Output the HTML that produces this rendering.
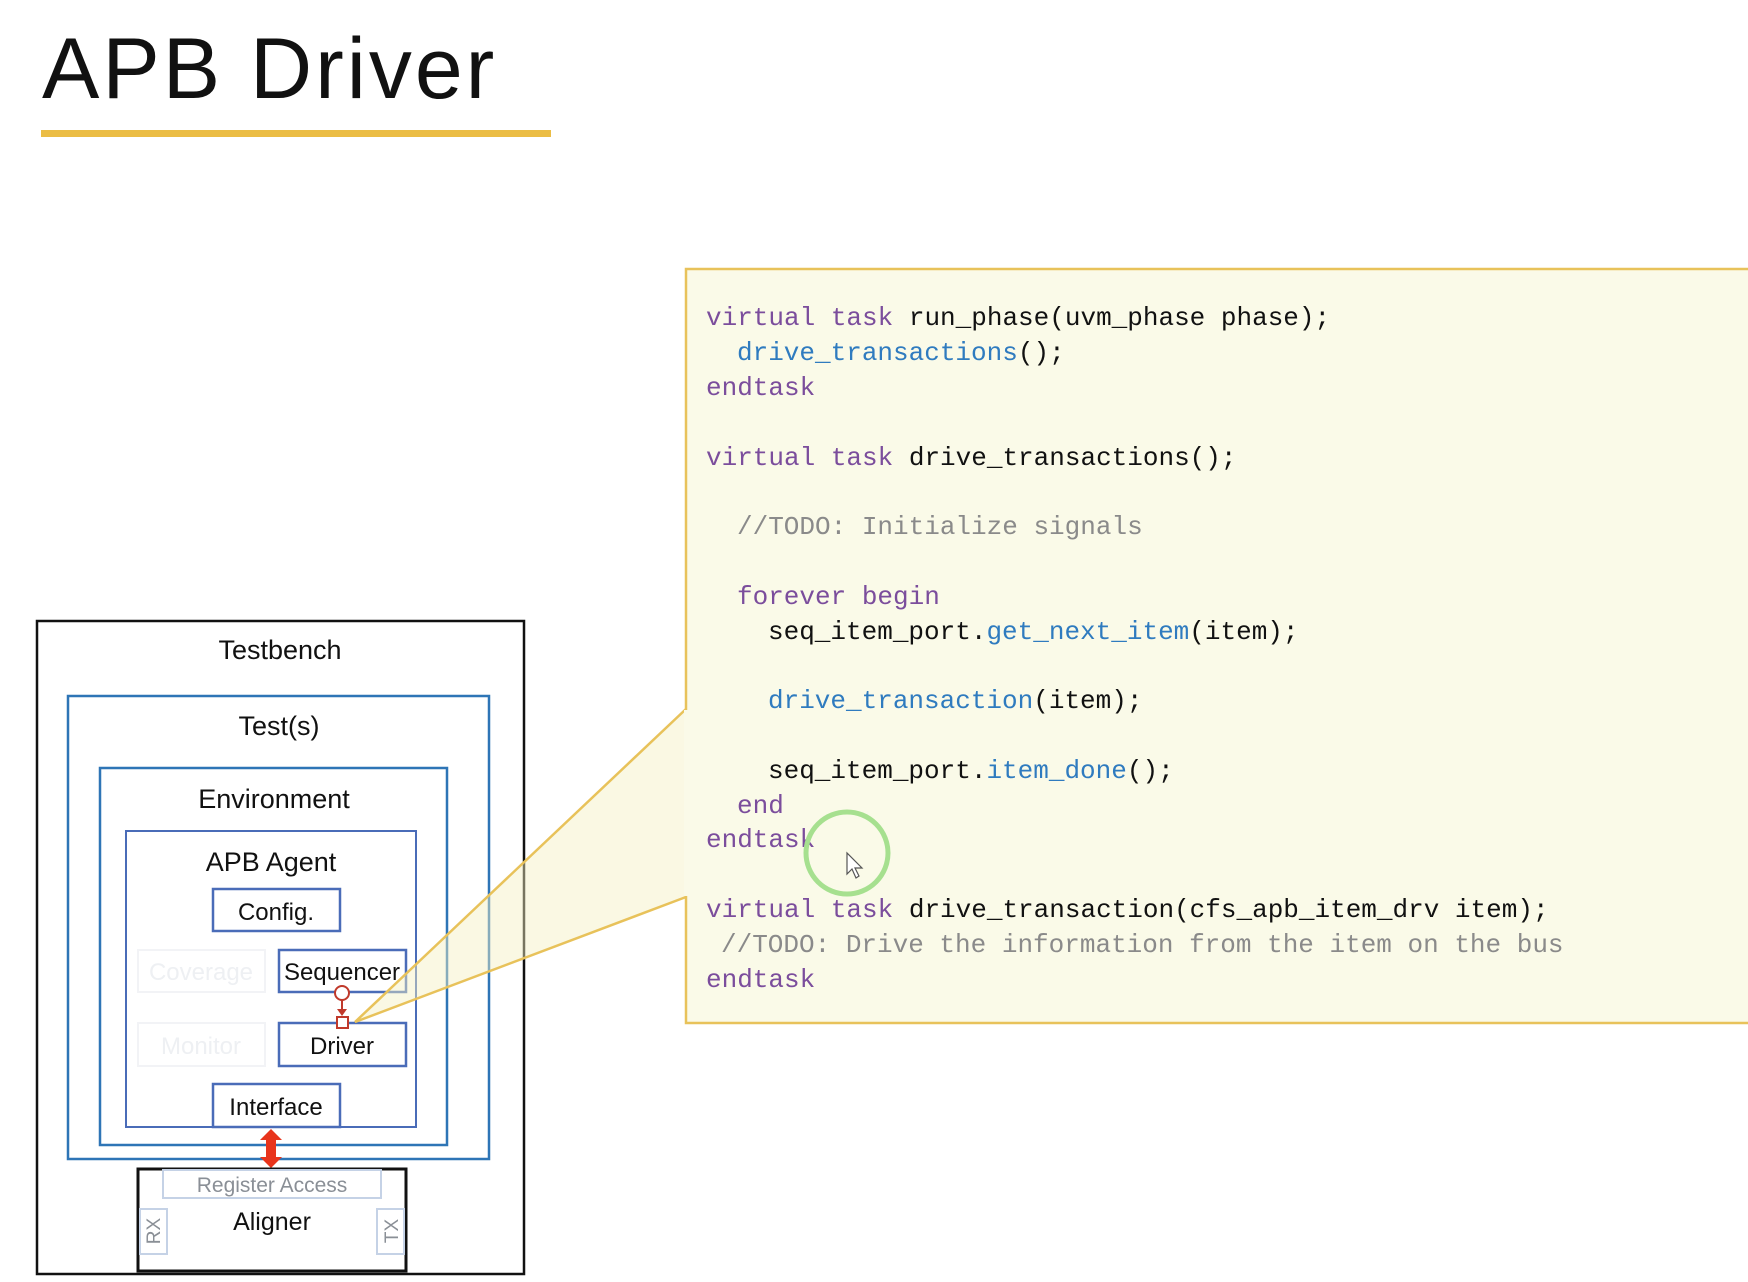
<!DOCTYPE html>
<html><head><meta charset="utf-8"><style>
html,body{margin:0;padding:0;background:#fff;}
svg{display:block;}
.c{font-family:"Liberation Mono",monospace;font-size:26px;fill:#111;}
.k{fill:#7b4d9c;} .f{fill:#2f7bbf;} .g{fill:#8a8a8a;}
.s{font-family:"Liberation Sans",sans-serif;fill:#111;text-anchor:middle;}
</style></head><body>
<svg width="1748" height="1282" viewBox="0 0 1748 1282" xmlns="http://www.w3.org/2000/svg">
<text x="42" y="98" font-family="Liberation Sans, sans-serif" font-size="86" letter-spacing="3" fill="#111">APB Driver</text>
<rect x="41" y="130" width="510" height="7" fill="#ebbd45"/>

<rect x="37" y="621" width="487" height="653" fill="#fff" stroke="#111" stroke-width="2.5"/>
<text class="s" x="280" y="659" font-size="27">Testbench</text>
<rect x="68" y="696" width="421" height="463" fill="none" stroke="#2e75b6" stroke-width="2.5"/>
<text class="s" x="279" y="735" font-size="27">Test(s)</text>
<rect x="100" y="768" width="347" height="377" fill="none" stroke="#2e75b6" stroke-width="2.5"/>
<text class="s" x="274" y="808" font-size="27">Environment</text>
<rect x="126" y="831" width="290" height="296" fill="none" stroke="#4a6cb8" stroke-width="2"/>
<text class="s" x="271" y="871" font-size="27">APB Agent</text>
<rect x="213" y="889" width="127" height="42" fill="#fff" stroke="#4a6cb8" stroke-width="2.5"/>
<text class="s" x="276" y="920" font-size="24">Config.</text>
<rect x="138" y="950" width="127" height="42" fill="none" stroke="#f2f3f6" stroke-width="2"/>
<text class="s" x="201" y="980" font-size="24" style="fill:#eef0f3">Coverage</text>
<rect x="138" y="1023" width="127" height="43" fill="none" stroke="#f2f3f6" stroke-width="2"/>
<text class="s" x="201" y="1054" font-size="24" style="fill:#eef0f3">Monitor</text>
<rect x="279" y="950" width="127" height="42" fill="#fff" stroke="#4a6cb8" stroke-width="2.5"/>
<text class="s" x="342" y="980" font-size="24">Sequencer</text>
<rect x="279" y="1023" width="127" height="43" fill="#fff" stroke="#4a6cb8" stroke-width="2.5"/>
<text class="s" x="342" y="1054" font-size="24">Driver</text>
<rect x="213" y="1084" width="127" height="43" fill="#fff" stroke="#4a6cb8" stroke-width="2.5"/>
<text class="s" x="276" y="1115" font-size="24">Interface</text>
<circle cx="342" cy="993" r="7" fill="#fff" stroke="#c0392b" stroke-width="2"/>
<line x1="342" y1="1000" x2="342" y2="1012" stroke="#c0392b" stroke-width="2"/>
<path d="M337,1009 L347,1009 L342,1016 Z" fill="#c0392b"/>
<rect x="337" y="1017" width="11" height="11" fill="#fff" stroke="#c0392b" stroke-width="2"/>
<path d="M271,1129 L282,1140 L276,1140 L276,1157 L282,1157 L271,1168 L260,1157 L266,1157 L266,1140 L260,1140 Z" fill="#e8341c"/>
<rect x="138" y="1169" width="268" height="102" fill="#fff" stroke="#111" stroke-width="3"/>
<rect x="163" y="1170" width="218" height="28" fill="none" stroke="#c5d2e6" stroke-width="2"/>
<text class="s" x="272" y="1192" font-size="21" style="fill:#8a8f96">Register Access</text>
<text class="s" x="272" y="1230" font-size="25">Aligner</text>
<rect x="140" y="1209" width="27" height="45" fill="none" stroke="#c5d2e6" stroke-width="2"/>
<rect x="377" y="1209" width="27" height="45" fill="none" stroke="#c5d2e6" stroke-width="2"/>
<text class="s" x="0" y="0" font-size="19" style="fill:#8a8f96" transform="translate(160,1231) rotate(-90)">RX</text>
<text class="s" x="0" y="0" font-size="19" style="fill:#8a8f96" transform="translate(398,1231) rotate(-90)">TX</text>

<path d="M686,709 L355,1022 L686,897 Z" fill="#f4f0c0" fill-opacity="0.45" stroke="none"/>
<rect x="686" y="269" width="1066" height="754" fill="#fafae8" stroke="#e8c25a" stroke-width="2.5"/>
<path d="M686,709 L355,1022 L686,897" fill="none" stroke="#e8c25a" stroke-width="2.5"/>
<line x1="686" y1="710" x2="686" y2="896" stroke="#fafae8" stroke-width="4"/>

<g class="c">
<text x="706" y="325"><tspan class="k">virtual task</tspan> run_phase(uvm_phase phase);</text>
<text x="737" y="360"><tspan class="f">drive_transactions</tspan>();</text>
<text x="706" y="395"><tspan class="k">endtask</tspan></text>
<text x="706" y="465"><tspan class="k">virtual task</tspan> drive_transactions();</text>
<text x="737" y="534" class="g">//TODO: Initialize signals</text>
<text x="737" y="604"><tspan class="k">forever begin</tspan></text>
<text x="768" y="639">seq_item_port.<tspan class="f">get_next_item</tspan>(item);</text>
<text x="768" y="708"><tspan class="f">drive_transaction</tspan>(item);</text>
<text x="768" y="778">seq_item_port.<tspan class="f">item_done</tspan>();</text>
<text x="737" y="813"><tspan class="k">end</tspan></text>
<text x="706" y="847"><tspan class="k">endtask</tspan></text>
<text x="706" y="917"><tspan class="k">virtual task</tspan> drive_transaction(cfs_apb_item_drv item);</text>
<text x="721" y="952" class="g">//TODO: Drive the information from the item on the bus</text>
<text x="706" y="987"><tspan class="k">endtask</tspan></text>
</g>

<circle cx="847" cy="853" r="41" fill="none" stroke="#a6e08f" stroke-width="5"/>
<path d="M847,853 L847,874 L852,869 L856,878 L859,876 L855,868 L862,868 Z" fill="#fff" stroke="#555" stroke-width="1.2"/>
</svg>
</body></html>
